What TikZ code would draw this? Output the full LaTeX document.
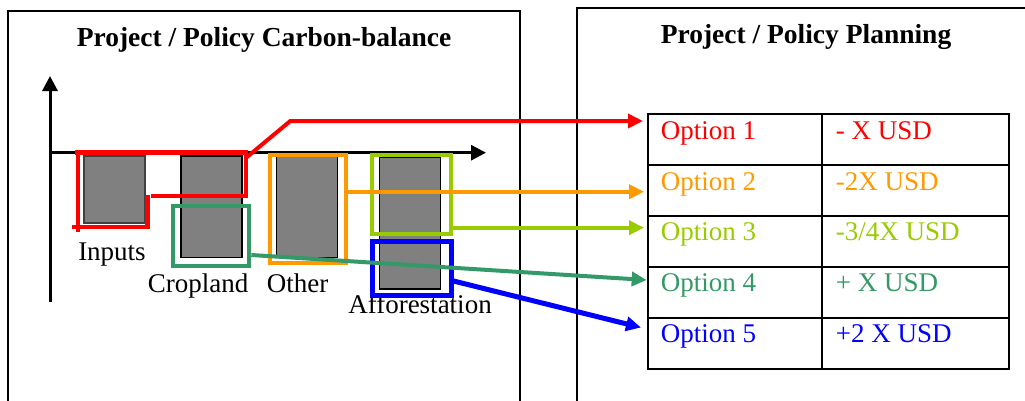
\documentclass[tikz,border=0pt]{standalone}
\usepackage{fontspec}
\setmainfont{Liberation Serif}
\usetikzlibrary{arrows.meta}
\definecolor{optred}{HTML}{FF0000}
\definecolor{optorange}{HTML}{FF9900}
\definecolor{optlime}{HTML}{99CC00}
\definecolor{optgreen}{HTML}{339966}
\definecolor{optblue}{HTML}{0000FF}
\newcommand{\diagfont}{\fontsize{27}{32}\selectfont}
\newcommand{\titlefont}{\fontsize{27.5}{32}\selectfont\bfseries}
\begin{document}
\begin{tikzpicture}[x=1pt, y=-1pt,
    frame/.style={line width=1.5pt, black},
    bar/.style={draw=black, line width=1.5pt, fill=black!50, anchor=north west,
      minimum width=61pt, preaction={draw=white, line width=4pt}},
    selbox/.style={draw, line width=4.3pt, anchor=north west, inner sep=0pt},
    link/.style={line width=4pt, -{Triangle[length=15pt, width=14pt]}},
    lbl/.style={font=\diagfont, inner sep=0pt, anchor=base},
    opt/.style={font=\diagfont, inner sep=0pt, anchor=base west},
    cell/.style={draw, line width=2pt, anchor=north west, minimum height=51pt, inner sep=0pt}]
  \useasboundingbox (0,0) rectangle (1025,400);
  \draw [frame] (8,410) |- (520,11) -- (520,410);
  \draw [frame] (577,410) |- (1030,8);
  \node [lbl, font=\titlefont] (ttlLeft) at (264,46.7) {Project / Policy Carbon-balance};
  \node [lbl, font=\titlefont] (ttlRight) at (806,43) {Project / Policy Planning};
  \draw [line width=3pt, -{Triangle[length=15pt, width=15pt]}] (50,302) -- (50,76);
  \draw [line width=3pt, -{Triangle[length=15pt, width=15pt]}] (50,152.7) -- (486,152.7);
  \node [bar, minimum height=67pt, draw=black!75] (barIn) at (83.4,155) {};
  \node [bar, minimum height=101.7pt] (barCrop) at (180,155) {};
  \node [bar, minimum height=101.7pt] (barOther) at (275.5,155) {};
  \node [bar, minimum height=131.6pt] (barAff) at (378.8,156.7) {};
  \node [lbl] (lblIn) at (112,260) {Inputs};
  \node [lbl] (lblCrop) at (198,292.7) {Cropland};
  \node [lbl] (lblOther) at (297.5,292.7) {Other};
  \node [lbl] (lblAff) at (420,313.3) {Afforestation};
  \draw [optred, line width=4.3pt] (72.3,227.2) -- (147.5,227.2) -- (147.5,195);
  \draw [optred, line width=4.3pt] (151,195.7) -- (246,195.7) -- (246,152.5) -- (75,152.5);
  \draw [optred, line width=4.3pt] (78.2,150.4) -- (78.2,231.7);
  \node [selbox, optorange, minimum width=76pt, minimum height=108pt] (boxOther) at (268,153) {};
  \node [selbox, optlime, minimum width=78.7pt, minimum height=79pt] (boxAffTop) at (370,153) {};
  \node [selbox, optblue, line width=5pt, minimum width=79pt, minimum height=54pt] (boxAffBot) at (369.5,238.5) {};
  \node [selbox, optgreen, minimum width=76.5pt, minimum height=60pt] (boxCrop) at (170.5,204) {};
  \foreach \r/\y in {1/113.3, 2/163.7, 3/215, 4/266, 5/316.7} {
    \node [cell, minimum width=174pt] (optCell\r) at (646.7,\y) {};
    \node [cell, minimum width=187pt] (costCell\r) at (820.7,\y) {};
  }
  \node [opt, optred] (opt1) at (660.7,139.3) {Option 1};
  \node [opt, optred] (cost1) at (835.7,139.3) {- X USD};
  \node [opt, optorange] (opt2) at (660.7,190) {Option 2};
  \node [opt, optorange] (cost2) at (835.7,190) {-2X USD};
  \node [opt, optlime] (opt3) at (660.7,240.7) {Option 3};
  \node [opt, optlime] (cost3) at (835.7,240.7) {-3/4X USD};
  \node [opt, optgreen] (opt4) at (660.7,291.7) {Option 4};
  \node [opt, optgreen] (cost4) at (835.7,291.7) {+ X USD};
  \node [opt, optblue] (opt5) at (660.7,342.7) {Option 5};
  \node [opt, optblue] (cost5) at (835.7,342.7) {+2 X USD};
  \coordinate (redStart) at (247,157);
  \coordinate (redBend) at (290.3,121);
  \coordinate (tip1) at (643,121);
  \coordinate (tip2) at (644,191.7);
  \coordinate (tip3) at (644,227.7);
  \coordinate (tip4) at (646.7,280);
  \coordinate (tip5) at (641,327.5);
  \draw [link, optred] (redStart) -- (redBend) -- (tip1);
  \draw [link, optorange] (boxOther.east |- tip2) -- (tip2);
  \draw [link, optlime] (boxAffTop.east |- tip3) -- (tip3);
  \draw [link, optgreen] (boxCrop.east |- 0,255) -- (tip4);
  \draw [link, optblue, line width=5pt] (boxAffBot.east |- 0,281) -- (tip5);
\end{tikzpicture}
\end{document}
